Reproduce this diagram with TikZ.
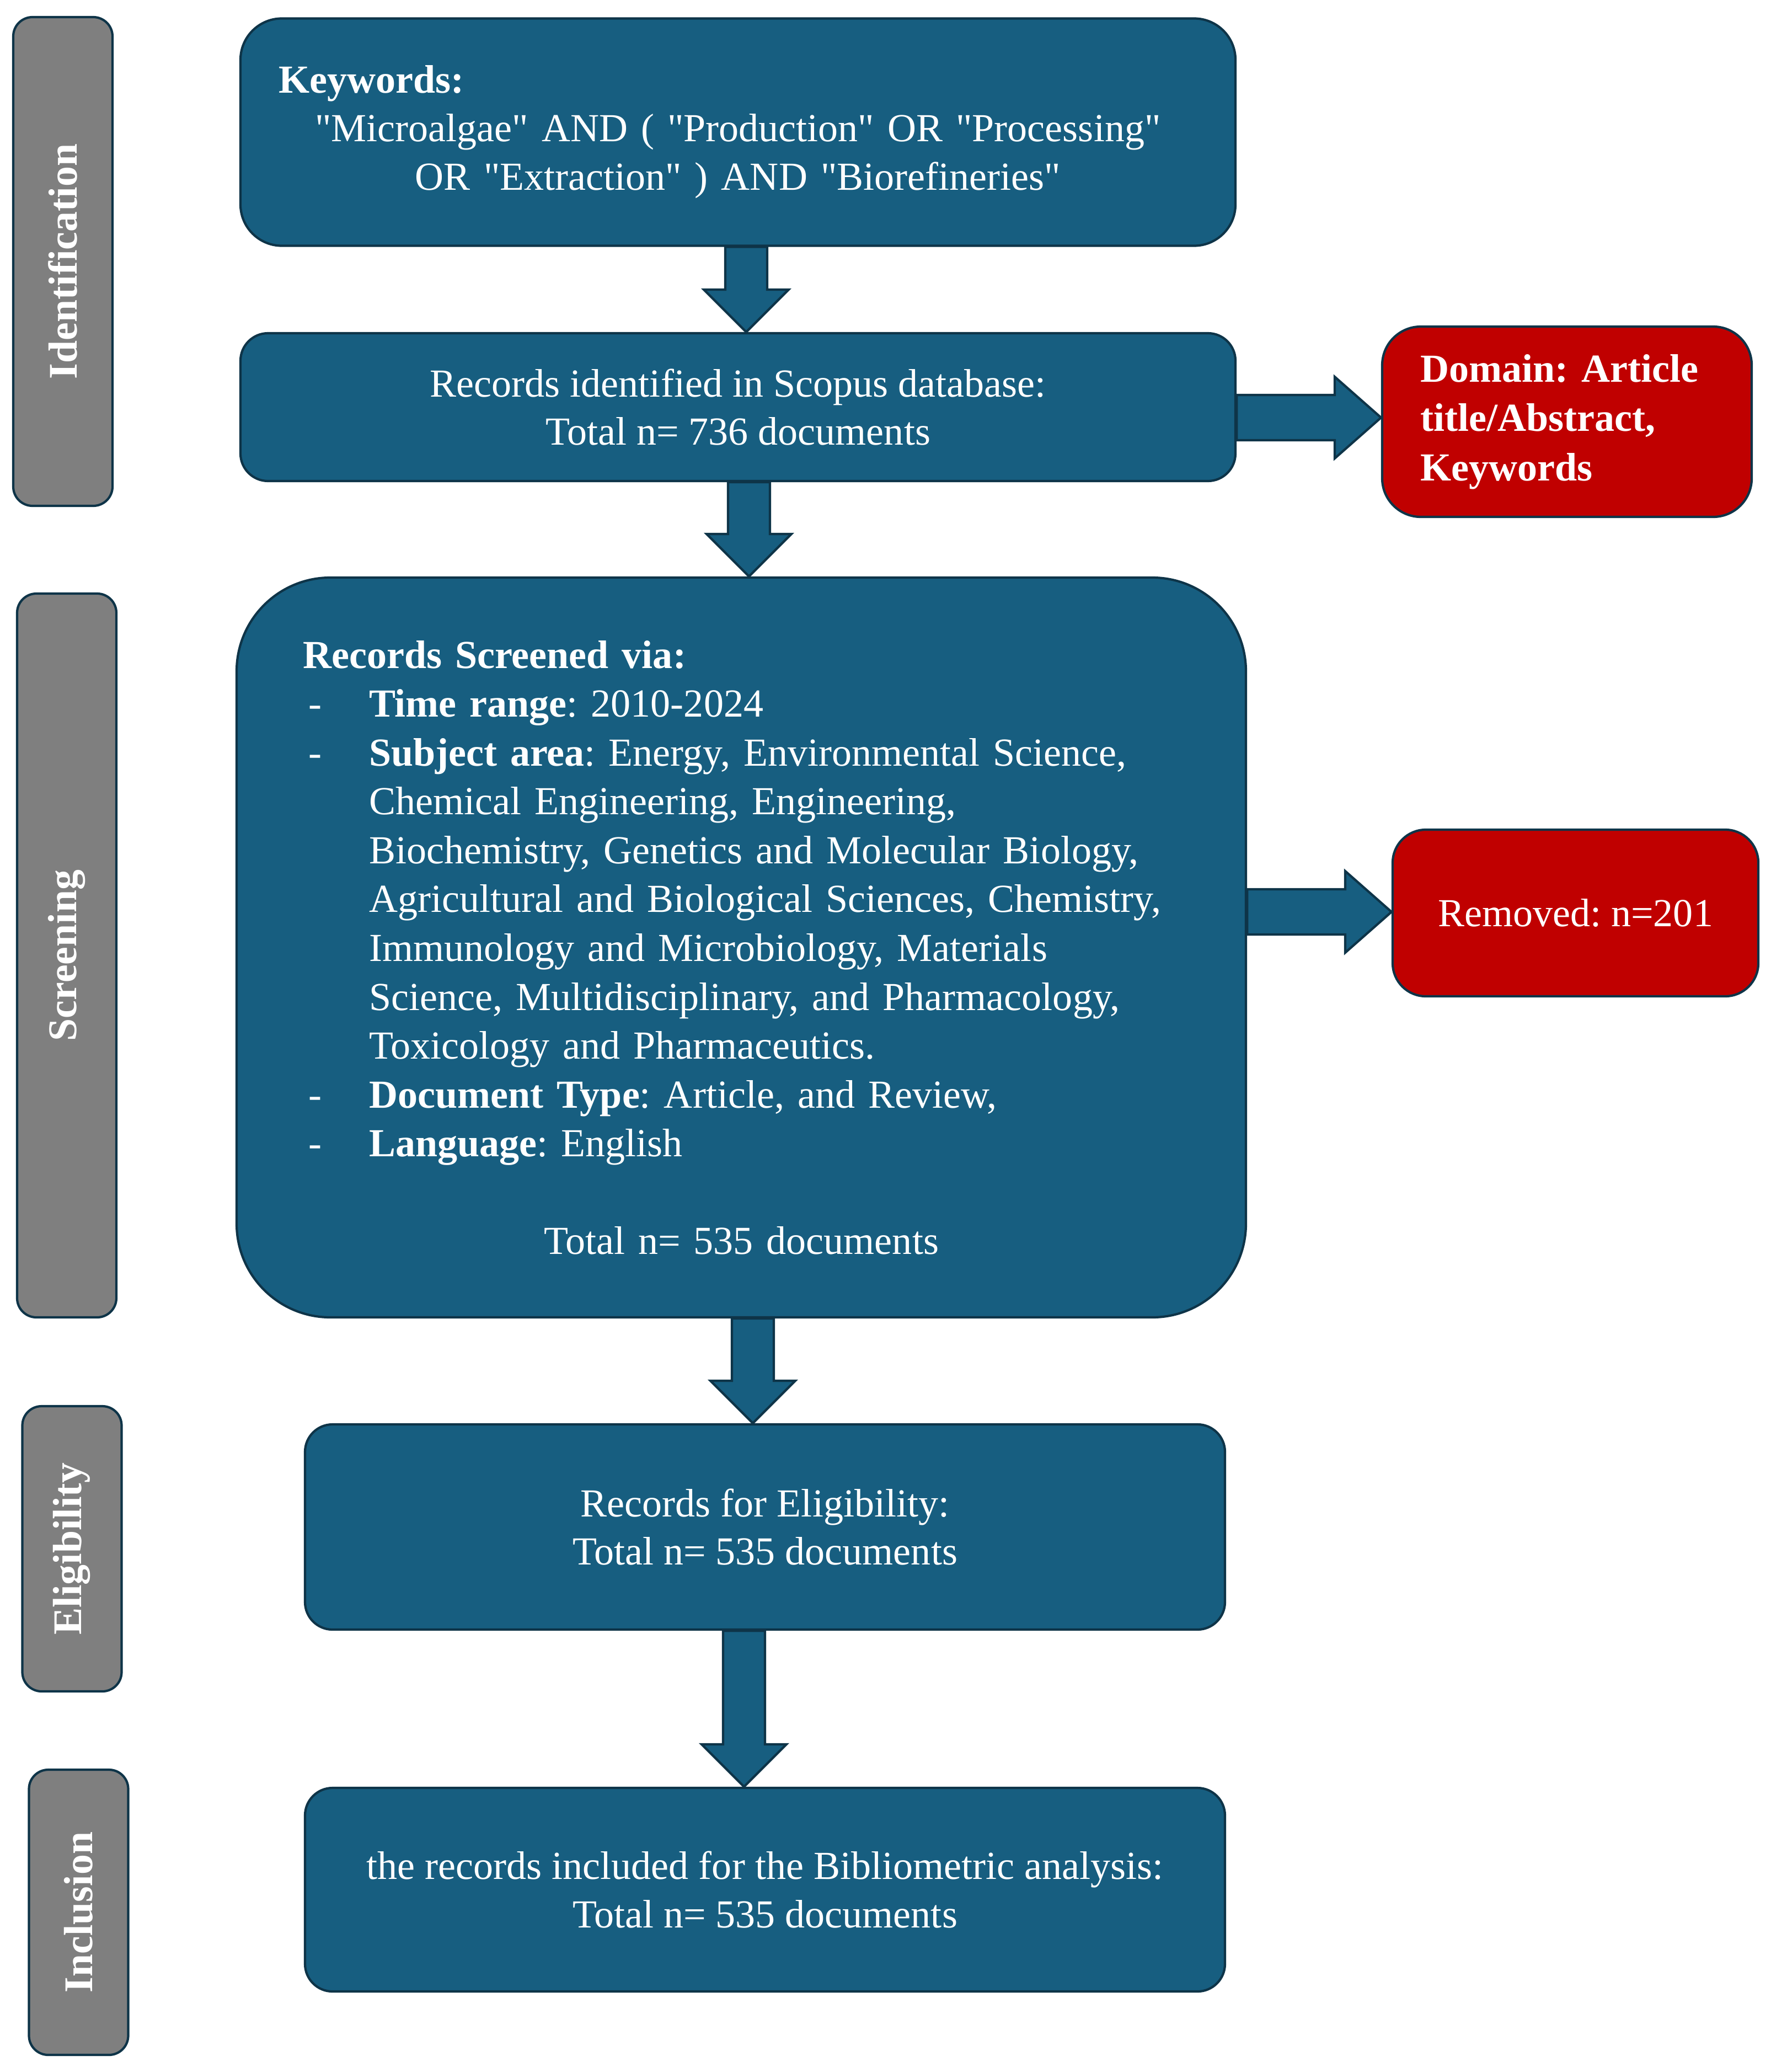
\documentclass[tikz,border=0pt]{standalone}
\usepackage{fontspec}
\setmainfont{Liberation Serif}[Ligatures=TeXOff]
\usetikzlibrary{calc}
\frenchspacing

\definecolor{boxblue}{RGB}{23,94,128}
\definecolor{edgeblue}{RGB}{14,52,72}
\definecolor{boxred}{RGB}{192,0,0}
\definecolor{stagegray}{RGB}{127,127,127}

% block arrows: from node, to node, shift of the arrow axis (cm)
\newcommand{\downblock}[3]{%
\draw[block arrow] let \p1=(#1.south), \p2=(#2.north), \n1={\x1+(#3)*1cm} in
 (\n1-0.38cm,\y1) -- (\n1-0.38cm,\y2+0.77cm) -- (\n1-0.77cm,\y2+0.77cm) -- (\n1,\y2)
 -- (\n1+0.77cm,\y2+0.77cm) -- (\n1+0.38cm,\y2+0.77cm) -- (\n1+0.38cm,\y1) -- cycle;}
\newcommand{\rightblock}[3]{%
\draw[block arrow] let \p1=(#1.east), \p2=(#2.west), \n1={\y1+(#3)*1cm} in
 (\x1,\n1+0.41cm) -- (\x2-0.84cm,\n1+0.41cm) -- (\x2-0.84cm,\n1+0.74cm) -- (\x2,\n1)
 -- (\x2-0.84cm,\n1-0.74cm) -- (\x2-0.84cm,\n1-0.41cm) -- (\x1,\n1-0.41cm) -- cycle;}

\begin{document}
\begin{tikzpicture}[line width=1.2pt,
  blue box/.style={draw=edgeblue,fill=boxblue,text=white,rounded corners=0.5cm,font=\fontsize{20.5}{25}\selectfont},
  red box/.style={draw=edgeblue,fill=boxred,text=white,rounded corners=0.7cm,font=\fontsize{20.5}{25.5}\selectfont},
  stage node/.style={rotate=90,draw=edgeblue,fill=stagegray,text=white,rounded corners=0.35cm,minimum height=1.8cm,font=\fontsize{21}{25}\selectfont\bfseries},
  block arrow/.style={draw=edgeblue,fill=boxblue,line join=miter}]
\useasboundingbox (0,0) rectangle (32.1,-37.56);

\node[stage node,minimum width=8.86cm] (sid) at (1.14,-4.74) {Identification};
\node[stage node,minimum width=13.12cm] (sscr) at (1.21,-17.32) {Screening};
\node[stage node,minimum width=5.17cm] (seli) at (1.305,-28.075) {Eligibility};
\node[stage node,minimum width=5.17cm] (sinc) at (1.425,-34.665) {Inclusion};

\node[blue box,rounded corners=0.75cm,minimum width=18.04cm,minimum height=4.12cm,text width=16.66cm,align=center] (kw) at (13.38,-2.395)
 {\makebox[16.66cm][l]{\textbf{Keywords:}}\\
  "Microalgae" AND ( "Production" OR "Processing"\\
  OR "Extraction" ) AND "Biorefineries"};
\node[blue box,minimum width=18.04cm,minimum height=2.68cm,align=center] (rid) at (13.38,-7.38)
 {Records identified in Scopus database:\\ Total n= 736 documents};
\node[red box,minimum width=6.70cm,minimum height=3.45cm,inner xsep=0.69cm,text width=5.32cm,align=left] (dom) at (28.41,-7.645)
 {\textbf{Domain: Article\\ title/Abstract,\\ Keywords}};

\node[blue box,rounded corners=1.7cm,font=\fontsize{20.5}{25.2}\selectfont,minimum width=18.30cm,minimum height=13.41cm,inner xsep=1.2cm,text width=15.9cm,align=left] (scr) at (13.44,-17.175)
 {\textbf{Records Screened via:}\\
  \makebox[1.2cm][l]{\hspace{0.1cm}-}\textbf{Time range}: 2010-2024\\
  \makebox[1.2cm][l]{\hspace{0.1cm}-}\textbf{Subject area}: Energy, Environmental Science,\\
  \hspace*{1.2cm}Chemical Engineering, Engineering,\\
  \hspace*{1.2cm}Biochemistry, Genetics and Molecular Biology,\\
  \hspace*{1.2cm}Agricultural and Biological Sciences, Chemistry,\\
  \hspace*{1.2cm}Immunology and Microbiology, Materials\\
  \hspace*{1.2cm}Science, Multidisciplinary, and Pharmacology,\\
  \hspace*{1.2cm}Toxicology and Pharmaceutics.\\
  \makebox[1.2cm][l]{\hspace{0.1cm}-}\textbf{Document Type}: Article, and Review,\\
  \makebox[1.2cm][l]{\hspace{0.1cm}-}\textbf{Language}: English\\[25pt]
  \makebox[15.9cm][c]{Total n= 535 documents}};
\node[red box,rounded corners=0.6cm,minimum width=6.63cm,minimum height=3.02cm,align=center] (rem) at (28.565,-16.55) {Removed: n=201};

\node[blue box,minimum width=16.68cm,minimum height=3.72cm,align=center] (eli) at (13.87,-27.68)
 {Records for Eligibility:\\ Total n= 535 documents};
\node[blue box,minimum width=16.68cm,minimum height=3.69cm,align=center] (inc) at (13.87,-34.255)
 {the records included for the Bibliometric analysis:\\ Total n= 535 documents};

\downblock{kw}{rid}{0.15}
\downblock{rid}{scr}{0.20}
\downblock{scr}{eli}{0.21}
\downblock{eli}{inc}{-0.38}
\rightblock{rid}{dom}{-0.19}
\rightblock{scr}{rem}{0.645}
\end{tikzpicture}
\end{document}
